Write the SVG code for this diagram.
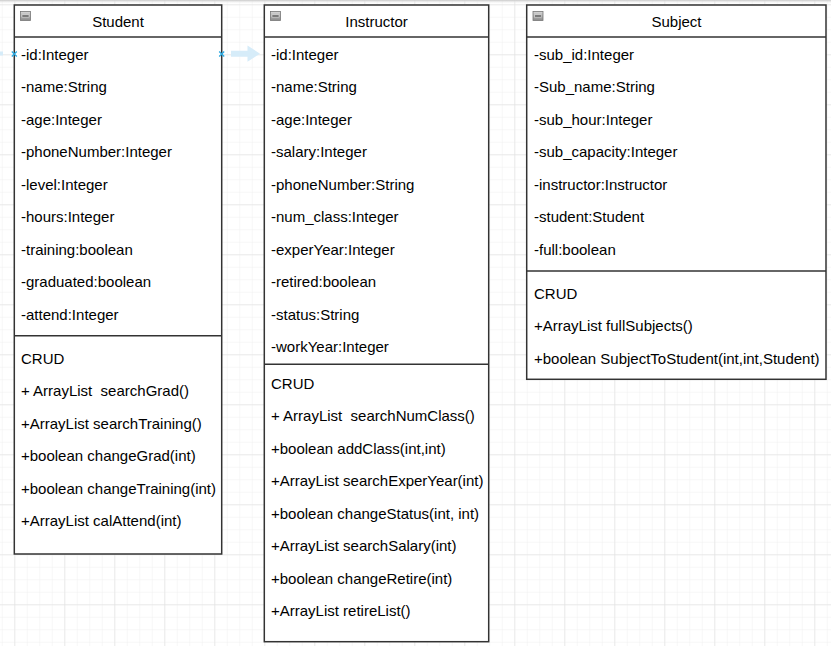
<svg xmlns="http://www.w3.org/2000/svg" width="831" height="646" viewBox="0 0 831 646">
<defs>
<pattern id="minor" x="14.3" y="4.3" width="12.5" height="12.5" patternUnits="userSpaceOnUse">
<path d="M0 0H12.5M0 0V12.5" fill="none" stroke="#f0f0f0" stroke-width="1"/>
</pattern>
<pattern id="major" x="14.3" y="4.3" width="50" height="50" patternUnits="userSpaceOnUse">
<path d="M0 0H50M0 0V50" fill="none" stroke="#dedede" stroke-width="1"/>
</pattern>
<linearGradient id="ico" x1="0" y1="0" x2="0" y2="1">
<stop offset="0" stop-color="#d8d8d8"/>
<stop offset="1" stop-color="#8a8a8a"/>
</linearGradient>
<linearGradient id="topshade" x1="0" y1="0" x2="0" y2="1">
<stop offset="0" stop-color="#c8c8c8"/>
<stop offset="1" stop-color="#ffffff" stop-opacity="0"/>
</linearGradient>
<g id="minus">
<rect x="0" y="0" width="10" height="9" fill="url(#ico)" stroke="#777" stroke-width="0.8"/>
<rect x="1.5" y="3.5" width="7" height="2" fill="#555" stroke="#eee" stroke-width="0.5"/>
</g>
</defs>
<style>
.box{fill:#ffffff;stroke:#333333;stroke-width:1.5}
.sep{stroke:#333333;stroke-width:1.5;fill:none}
.t{font-family:"Liberation Sans",Arial,sans-serif;font-size:15px;fill:#000000}
.title{font-family:"Liberation Sans",Arial,sans-serif;font-size:15px;fill:#000000;text-anchor:middle}
.mark{stroke:#29a8e0;stroke-width:1.3;fill:none}
</style>
<rect width="831" height="646" fill="#ffffff"/>
<rect width="831" height="646" fill="url(#minor)"/>
<rect width="831" height="646" fill="url(#major)"/>
<rect x="0" y="0" width="831" height="4" fill="url(#topshade)"/>

<g id="student">
<rect class="box" x="14.3" y="5" width="207.4" height="549"/>
<line class="sep" x1="14.3" y1="37" x2="221.7" y2="37"/>
<line class="sep" x1="14.3" y1="335.7" x2="221.7" y2="335.7"/>
<use href="#minus" x="20.5" y="11.5"/>
<text class="title" x="118" y="26.5">Student</text>
<text class="t" x="21" y="59.5">-id:Integer</text>
<text class="t" x="21" y="92">-name:String</text>
<text class="t" x="21" y="124.5">-age:Integer</text>
<text class="t" x="21" y="157">-phoneNumber:Integer</text>
<text class="t" x="21" y="189.5">-level:Integer</text>
<text class="t" x="21" y="222">-hours:Integer</text>
<text class="t" x="21" y="254.5">-training:boolean</text>
<text class="t" x="21" y="287">-graduated:boolean</text>
<text class="t" x="21" y="319.5">-attend:Integer</text>
<text class="t" x="21" y="363.5">CRUD</text>
<text class="t" x="21" y="396" xml:space="preserve">+ ArrayList  searchGrad()</text>
<text class="t" x="21" y="428.5">+ArrayList searchTraining()</text>
<text class="t" x="21" y="461">+boolean changeGrad(int)</text>
<text class="t" x="21" y="493.5">+boolean changeTraining(int)</text>
<text class="t" x="21" y="526">+ArrayList calAttend(int)</text>
</g>

<g id="instructor">
<rect class="box" x="264.3" y="5" width="224.4" height="636.7"/>
<line class="sep" x1="264.3" y1="37" x2="488.7" y2="37"/>
<line class="sep" x1="264.3" y1="364.3" x2="488.7" y2="364.3"/>
<use href="#minus" x="270.5" y="11.5"/>
<text class="title" x="376.5" y="26.5">Instructor</text>
<text class="t" x="271" y="59.5">-id:Integer</text>
<text class="t" x="271" y="92">-name:String</text>
<text class="t" x="271" y="124.5">-age:Integer</text>
<text class="t" x="271" y="157">-salary:Integer</text>
<text class="t" x="271" y="189.5">-phoneNumber:String</text>
<text class="t" x="271" y="222">-num_class:Integer</text>
<text class="t" x="271" y="254.5">-experYear:Integer</text>
<text class="t" x="271" y="287">-retired:boolean</text>
<text class="t" x="271" y="319.5">-status:String</text>
<text class="t" x="271" y="352">-workYear:Integer</text>
<text class="t" x="271" y="388.8">CRUD</text>
<text class="t" x="271" y="421.3" xml:space="preserve">+ ArrayList  searchNumClass()</text>
<text class="t" x="271" y="453.8">+boolean addClass(int,int)</text>
<text class="t" x="271" y="486.3">+ArrayList searchExperYear(int)</text>
<text class="t" x="271" y="518.8">+boolean changeStatus(int, int)</text>
<text class="t" x="271" y="551.3">+ArrayList searchSalary(int)</text>
<text class="t" x="271" y="583.8">+boolean changeRetire(int)</text>
<text class="t" x="271" y="616.3">+ArrayList retireList()</text>
</g>

<g id="subject">
<rect class="box" x="526.7" y="5" width="299.3" height="374.3"/>
<line class="sep" x1="526.7" y1="37" x2="826" y2="37"/>
<line class="sep" x1="526.7" y1="271" x2="826" y2="271"/>
<use href="#minus" x="533" y="11.5"/>
<text class="title" x="676.5" y="26.5">Subject</text>
<text class="t" x="534" y="59.5">-sub_id:Integer</text>
<text class="t" x="534" y="92">-Sub_name:String</text>
<text class="t" x="534" y="124.5">-sub_hour:Integer</text>
<text class="t" x="534" y="157">-sub_capacity:Integer</text>
<text class="t" x="534" y="189.5">-instructor:Instructor</text>
<text class="t" x="534" y="222">-student:Student</text>
<text class="t" x="534" y="254.5">-full:boolean</text>
<text class="t" x="534" y="298.5">CRUD</text>
<text class="t" x="534" y="331">+ArrayList fullSubjects()</text>
<text class="t" x="534" y="363.5">+boolean SubjectToStudent(int,int,Student)</text>
</g>

<g id="connectors">
<rect x="0" y="51.5" width="3" height="4" fill="#d6ecf9"/>
<path d="M231 50.7H247.5V45.5L260 53.7L247.5 61.8V56.7H231Z" fill="#d6ecf9"/>
<path class="mark" d="M11.8 51.5L16.8 56.5M16.8 51.5L11.8 56.5"/>
<path class="mark" d="M219.2 51.5L224.2 56.5M224.2 51.5L219.2 56.5"/>
</g>
</svg>
